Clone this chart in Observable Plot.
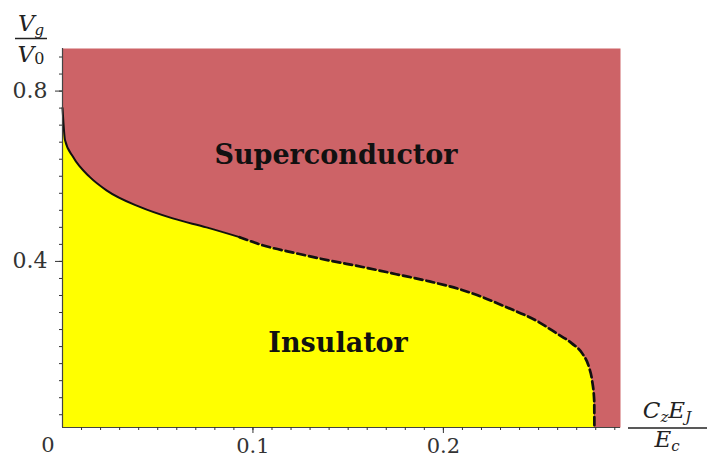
<!DOCTYPE html>
<html>
<head>
<meta charset="utf-8">
<script src="https://cdn.jsdelivr.net/npm/d3@7"></script>
<script src="https://cdn.jsdelivr.net/npm/@observablehq/plot@0.6"></script>
<style>
  html, body { margin: 0; padding: 0; background: #fff; }
  #chart { position: relative; width: 711px; height: 457px; }
</style>
</head>
<body>
<div id="chart"></div>
<script>
// Phase boundary
const boundaryX = [0, 0.0005, 0.0013, 0.0056, 0.0144, 0.0231, 0.0406, 0.0579, 0.0756, 0.0930,
  0.1051, 0.1228, 0.1402, 0.1575, 0.1752, 0.1927, 0.2084, 0.2152, 0.2329, 0.2503,
  0.2591, 0.2676, 0.2729, 0.2765, 0.2781, 0.2792, 0.2793];
const boundaryY = [0.76, 0.725, 0.685, 0.645, 0.598, 0.567, 0.528, 0.501, 0.480, 0.457,
  0.438, 0.419, 0.402, 0.387, 0.370, 0.353, 0.335, 0.325, 0.293, 0.257,
  0.232, 0.207, 0.184, 0.151, 0.120, 0.073, 0.01];
const solidUntil = 0.093;   // boundary drawn solid up to here, dashed after

const regionNames = ["Superconductor", "Insulator"];
const regionX = [0.1436, 0.1447];
const regionY = [0.649, 0.207];

const xTickLabels = [0.1, 0.2];
const yTickLabels = [0.4, 0.8];
const xDomain = [0, 0.293];
const yDomain = [0.01, 0.9];

const curve = boundaryX.map((x, i) => ({x, y: boundaryY[i]}));
const regions = regionNames.map((name, i) => ({name, x: regionX[i], y: regionY[i]}));

const xMinor = d3.range(1, 30).map(i => i / 100);
const yMinor = d3.range(1, 23).map(i => Math.round(i * 4) / 100);

const red = "#cd6367";
const yellow = "#ffff00";

const plot = Plot.plot({
  width: 711,
  height: 457,
  marginLeft: 62,
  marginRight: 91,
  marginTop: 48,
  marginBottom: 30,
  style: {fontFamily: "DejaVu Serif", fontSize: "21px", color: "#333", background: "#fff"},
  x: {domain: xDomain, axis: null},
  y: {domain: yDomain, axis: null},
  marks: [
    Plot.frame({fill: red, stroke: null}),
    Plot.areaY(curve, {x: "x", y1: yDomain[0], y2: "y", fill: yellow, curve: "monotone-x"}),
    Plot.line(curve.filter(d => d.x <= solidUntil), {x: "x", y: "y", stroke: "#111", strokeWidth: 2, curve: "monotone-x"}),
    Plot.line(curve.filter(d => d.x >= solidUntil), {x: "x", y: "y", stroke: "#111", strokeWidth: 2.7, strokeDasharray: "8,4", curve: "monotone-x"}),
    Plot.ruleX([0], {stroke: "#444", strokeWidth: 1.2}),
    Plot.ruleY([yDomain[0]], {stroke: "#444", strokeWidth: 1.2}),
    Plot.axisX(xMinor, {label: null, tickSize: 3, tickFormat: () => "", stroke: "#333"}),
    Plot.axisX(xTickLabels, {label: null, tickSize: 6, tickPadding: 5, tickFormat: d => String(d), stroke: "#333", fill: "#333", fontSize: 21}),
    Plot.axisY(yMinor, {label: null, tickSize: 3, tickFormat: () => "", stroke: "#333"}),
    Plot.axisY(yTickLabels, {label: null, tickSize: 7, tickPadding: 8, tickFormat: d => String(d), stroke: "#333", fill: "#333", fontSize: 22}),
    Plot.text(regions, {x: "x", y: "y", text: "name", fontFamily: "DejaVu Serif", fontWeight: "bold", fontSize: 27, fill: "#111"})
  ]
});

document.getElementById("chart").appendChild(plot);

// Axis labels as fractions (text), plus the origin label
const svg = d3.select(plot);
const g = svg.append("g").attr("fill", "#222").attr("font-family", "DejaVu Serif");
// origin "0"
g.append("text").attr("x", 48).attr("y", 452).attr("text-anchor", "middle").attr("font-size", 21).attr("fill", "#333").text("0");
// y label: Vg / V0
const yl = g.append("text").attr("x", 31).attr("y", 31).attr("text-anchor", "middle").attr("font-size", 23).attr("font-style", "italic");
yl.append("tspan").text("V");
yl.append("tspan").attr("font-size", 15).attr("dy", 4).text("g");
g.append("line").attr("x1", 15).attr("x2", 47).attr("y1", 38.5).attr("y2", 38.5).attr("stroke", "#222").attr("stroke-width", 1.5);
const yl2 = g.append("text").attr("x", 31).attr("y", 62).attr("text-anchor", "middle").attr("font-size", 23);
yl2.append("tspan").attr("font-style", "italic").text("V");
yl2.append("tspan").attr("font-size", 16).attr("dy", 2).text("0");
// x label: Cz EJ / Ec
const xl = g.append("text").attr("x", 667).attr("y", 418).attr("text-anchor", "middle").attr("font-size", 23).attr("font-style", "italic");
xl.append("tspan").text("C");
xl.append("tspan").attr("font-size", 15).attr("dy", 4).text("z");
xl.append("tspan").attr("dy", -4).text("E");
xl.append("tspan").attr("font-size", 15).attr("dy", 4).text("J");
g.append("line").attr("x1", 628).attr("x2", 707).attr("y1", 428).attr("y2", 428).attr("stroke", "#222").attr("stroke-width", 1.5);
const xl2 = g.append("text").attr("x", 667).attr("y", 447).attr("text-anchor", "middle").attr("font-size", 23).attr("font-style", "italic");
xl2.append("tspan").text("E");
xl2.append("tspan").attr("font-size", 15).attr("dy", 4).text("c");
</script>
</body>
</html>
